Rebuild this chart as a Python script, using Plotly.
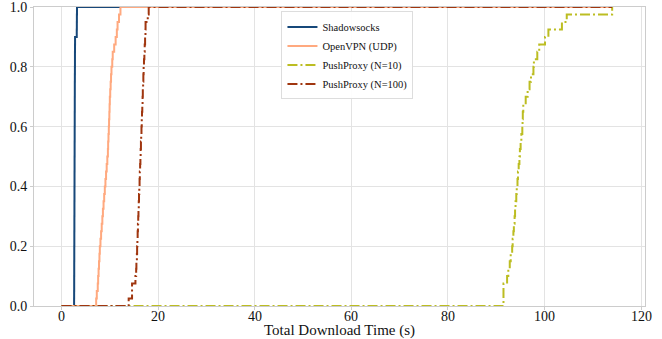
import plotly.graph_objects as go

# Download-time samples (s)
shadowsocks = [2.60, 2.61, 2.62, 2.62, 2.63, 2.63, 2.64, 2.64, 2.65, 2.65, 2.66, 2.66,
               2.67, 2.67, 2.68, 2.68, 2.69, 2.69, 2.70, 2.70, 2.71, 2.71, 2.72, 2.72,
               2.73, 2.73, 2.74, 2.74, 2.75, 2.75, 2.76, 2.77, 2.78, 2.78, 2.79, 2.80,
               3.15, 3.17, 3.18, 3.20]
openvpn = [7.17, 7.30, 7.50, 7.58, 7.67, 7.76, 7.85, 7.93, 8.06, 8.19, 8.32, 8.45,
           8.57, 8.70, 8.83, 8.96, 9.09, 9.22, 9.35, 9.48, 9.60, 9.65, 9.72, 9.79,
           9.84, 9.90, 9.95, 10.00, 10.08, 10.17, 10.25, 10.34, 10.50, 10.60, 10.90,
           11.20, 11.45, 11.60, 11.90, 12.20]
pushproxy10 = [91.5, 91.5, 91.5, 92.25, 92.5, 92.8, 93.0, 93.3, 93.4, 93.55, 93.65,
               93.8, 93.9, 94.0, 94.15, 94.25, 94.4, 94.5, 94.65, 94.8, 94.9, 95.05,
               95.2, 95.4, 95.45, 95.5, 95.6, 96.1, 96.5, 96.9, 97.2, 97.7, 97.8,
               98.5, 98.9, 100.1, 100.8, 103.6, 104.6, 114.0]
pushproxy100 = [13.9, 14.6, 14.6, 15.3, 15.45, 15.5, 15.6, 15.65, 15.71, 15.76, 15.82,
                15.88, 15.93, 15.99, 16.04, 16.10, 16.16, 16.21, 16.27, 16.33, 16.38,
                16.44, 16.49, 16.55, 16.61, 16.66, 16.72, 16.78, 16.83, 16.89, 16.94,
                17.00, 17.07, 17.15, 17.22, 17.30, 17.38, 17.40, 17.85, 18.05]

series_names = ["Shadowsocks", "OpenVPN (UDP)", "PushProxy (N=10)", "PushProxy (N=100)"]
series_data = [shadowsocks, openvpn, pushproxy10, pushproxy100]
series_colors = ["#17487a", "#ffa97f", "#bcbd22", "#a0360f"]
series_dash = ["solid", "solid", "10px,3px,2px,3px", "10px,3px,2px,3px"]

x_ticks = [0, 20, 40, 60, 80, 100, 120]
x_tick_labels = ["0", "20", "40", "60", "80", "100", "120"]
y_ticks = [0, 0.2, 0.4, 0.6, 0.8, 1.0]
x_title = "Total Download Time (s)"

x_end = max(max(s) for s in series_data)

fig = go.Figure()
for name, data, color, dash in zip(series_names, series_data, series_colors, series_dash):
    vals = sorted(data)
    n = len(vals)
    xs = [0] + vals + [x_end]
    ys = [0] + [(i + 1) / n for i in range(n)] + [1.0]
    fig.add_trace(go.Scatter(x=xs, y=ys, mode="lines", name=name,
                             line=dict(color=color, width=2, dash=dash, shape="hv")))

font_family = "Liberation Serif, Times New Roman, Times, serif"
tick_font = dict(family=font_family, size=14, color="#111111")

annotations = [dict(text=lab, xref="x", yref="paper", x=v, y=-0.004,
                    xanchor="center", yanchor="top", showarrow=False, font=tick_font)
               for v, lab in zip(x_ticks, x_tick_labels)]
annotations.append(dict(text=x_title, xref="paper", yref="paper", x=0.5, y=-0.082,
                        xanchor="center", yanchor="middle", showarrow=False,
                        font=dict(family=font_family, size=15, color="#111111")))

fig.update_layout(
    width=662, height=339,
    margin=dict(l=34, r=17, t=7, b=33),
    plot_bgcolor="white", paper_bgcolor="white",
    font=dict(family=font_family, size=14, color="#111111"),
    legend=dict(x=0.405, y=0.985, xanchor="left", yanchor="top",
                bgcolor="rgba(255,255,255,0.9)", bordercolor="#dddddd", borderwidth=1,
                font=dict(family=font_family, size=10.5), tracegroupgap=0,
                itemwidth=30),
    xaxis=dict(range=[-5.7, 120.8], tickvals=x_ticks, automargin=False,
               showticklabels=False,
               showgrid=True, gridcolor="#e3e3e3", gridwidth=1,
               showline=True, linecolor="#cccccc", linewidth=1, mirror=True,
               ticks="outside", ticklen=3, tickcolor="#cccccc", zeroline=False),
    yaxis=dict(range=[0, 1], tickvals=y_ticks, tickformat=".1f", automargin=False,
               ticklabeloverflow="allow", tickfont=tick_font,
               showgrid=True, gridcolor="#e3e3e3", gridwidth=1,
               showline=True, linecolor="#cccccc", linewidth=1, mirror=True,
               ticks="outside", ticklen=3, tickcolor="#cccccc",
               zeroline=False),
    annotations=annotations,
)
fig.write_html("out.html", config={"displayModeBar": False},
               post_script="document.body.style.margin='0';")
